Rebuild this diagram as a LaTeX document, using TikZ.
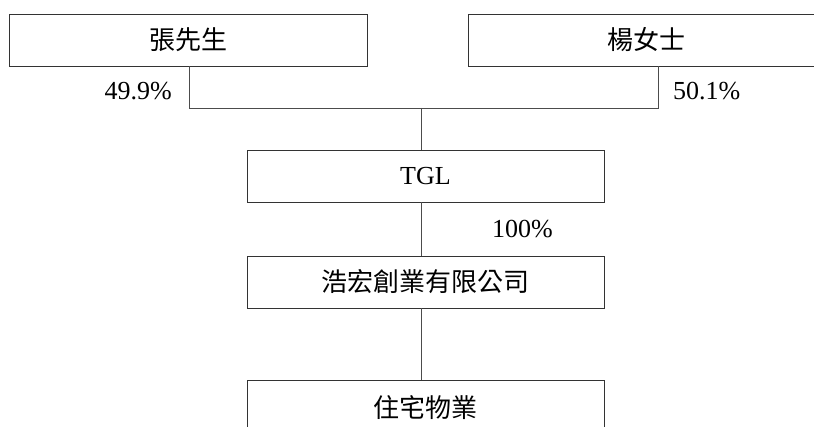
\documentclass[tikz,border=0pt]{standalone}
\usepackage{fontspec}
\setmainfont{Liberation Serif}
\newfontfamily\cjk{Noto Sans CJK TC}
\begin{document}
\begin{tikzpicture}[x=1pt,y=-1pt,
  box/.style={draw=black!80, line width=0.9pt, minimum height=52pt, inner sep=0pt, font=\cjk\fontsize{26}{28}\selectfont},
  link/.style={draw=black!70, line width=0.9pt},
  pct/.style={font=\fontsize{26}{28}\selectfont, inner sep=0pt}]
\useasboundingbox (0,0) rectangle (814,427);
\clip (0,0) rectangle (814,427);
\node[box, minimum width=357.5pt] (zhang) at (188.25,40) {張先生};
\node[box, minimum width=356pt] (yang) at (646,40) {楊女士};
\node[box, minimum width=357pt, font=\fontsize{26}{28}\selectfont] (tgl) at (425.5,176) {TGL};
\node[box, minimum width=357pt] (hh) at (425.5,282) {浩宏創業有限公司};
\node[box, minimum width=357pt, minimum height=56pt] (zz) at (425.5,408) {住宅物業};
\coordinate (j1) at (189,108);
\coordinate (j2) at (658,108);
\coordinate (j0) at (421,108);
\draw[link] (j1 |- zhang.south) -- (j1) -- (j2) -- (j2 |- yang.south);
\draw[link] (j0) -- (j0 |- tgl.north);
\draw[link] (j0 |- tgl.south) -- (j0 |- hh.north);
\draw[link] (j0 |- hh.south) -- (j0 |- zz.north);
\node[pct, anchor=east] (p1) at (172,91) {49.9\%};
\node[pct, anchor=west] (p2) at (673,91) {50.1\%};
\node[pct, anchor=west] (p3) at (492,229) {100\%};
\end{tikzpicture}
\end{document}
